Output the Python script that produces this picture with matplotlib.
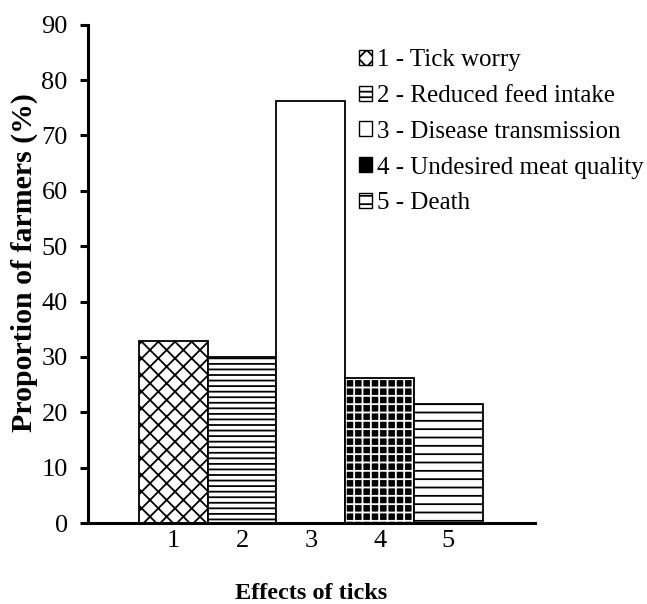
import numpy as np
import matplotlib.pyplot as plt
from matplotlib.patches import Patch

plt.rcParams['font.family'] = ['Liberation Serif', 'DejaVu Serif']
plt.rcParams['hatch.linewidth'] = 1.3

# Data
categories = ['1', '2', '3', '4', '5']
labels = ['1 - Tick worry', '2 - Reduced feed intake', '3 - Disease transmission',
          '4 - Undesired meat quality', '5 - Death']
values = [32.8, 30.0, 76.3, 26.2, 21.5]

# styles per bar: (face, hatch colour, hatch)
styles = [('white', 'black', 'xx'),
          ('white', 'black', '---'),
          ('white', 'black', ''),
          ('black', 'white', '++'),
          ('white', 'black', '--')]

fig = plt.figure(figsize=(6.47, 6.04), dpi=100)
ax = fig.add_axes([0.136, 0.134, 0.691, 0.825])

x = np.arange(1, len(values) + 1)
handles = []
for xi, v, (fc, hc, h), lab in zip(x, values, styles, labels):
    ax.bar(xi, v, width=1.0, color=fc, edgecolor=hc, hatch=h, linewidth=0)
    ax.bar(xi, v, width=1.0, fill=False, edgecolor='black', linewidth=1.3)
    handles.append(Patch(facecolor=fc, edgecolor='black', hatch=h, linewidth=1.0, label=lab))

ax.set_xlim(-0.24, 6.26)
ax.set_ylim(0, 90)
ax.set_yticks(np.arange(0, 91, 10))
ax.set_xticks(x)
ax.set_xticklabels(categories)

for s in ['top', 'right']:
    ax.spines[s].set_visible(False)
for s in ['left', 'bottom']:
    ax.spines[s].set_linewidth(2.2)
ax.tick_params(axis='y', direction='out', length=5.5, width=2.2, labelsize=19, pad=9)
ax.tick_params(axis='x', length=0, labelsize=19, pad=5)

ax.set_ylabel('Proportion of farmers (%)', fontsize=21.5, fontweight='bold')
ax.yaxis.set_label_coords(-0.112, 0.522)
ax.set_xlabel('Effects of ticks', fontsize=17.5, fontweight='bold', labelpad=22)

fig.legend(handles=handles, loc='upper left', bbox_to_anchor=(0.539, 0.935),
           frameon=False, fontsize=18, handlelength=0.55, handleheight=0.55,
           handletextpad=0.2, labelspacing=0.55, borderaxespad=0)

fig.savefig('out.png', dpi=100)
